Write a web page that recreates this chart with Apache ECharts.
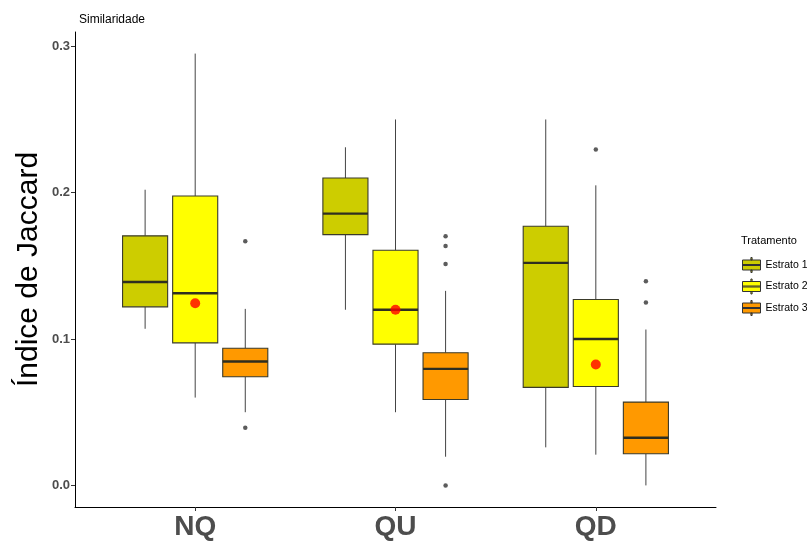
<!DOCTYPE html>
<html>
<head>
<meta charset="utf-8">
<script src="https://cdn.jsdelivr.net/npm/echarts@6/dist/echarts.min.js"></script>
<style>html,body{margin:0;padding:0;background:#fff}#c{width:807px;height:542px}</style>
</head>
<body>
<div id="c"></div>
<script>
const categories = ['NQ', 'QU', 'QD'];
const groups = ['Estrato 1', 'Estrato 2', 'Estrato 3'];
const yTicks = [0, 0.1, 0.2, 0.3];
// [whiskerLow, Q1, median, Q3, whiskerHigh] per category
const estrato1 = [[0.107, 0.122, 0.139, 0.1705, 0.202], [0.120, 0.1713, 0.1857, 0.210, 0.231], [0.026, 0.067, 0.152, 0.177, 0.250]];
const estrato2 = [[0.060, 0.0974, 0.1313, 0.1977, 0.295], [0.050, 0.0965, 0.120, 0.1606, 0.250], [0.021, 0.0676, 0.100, 0.127, 0.205]];
const estrato3 = [[0.050, 0.0742, 0.0846, 0.0937, 0.1206], [0.0196, 0.0587, 0.0796, 0.0906, 0.1329], [0.0, 0.0216, 0.0326, 0.0569, 0.1065]];
// outliers per category
const out1 = [[], [], []];
const out2 = [[], [], [0.2294]];
const out3 = [[0.1668, 0.0394], [0.1702, 0.1636, 0.1513, 0.0], [0.1395, 0.1249]];
// mean of Estrato 2 per category
const means2 = [0.1245, 0.120, 0.0826];

const colors = ['#CDCD00', '#FFFF00', '#FF9900'];
const stats = [estrato1, estrato2, estrato3];
const outs = [out1, out2, out3];
const dodge = [-0.25, 0, 0.25];
const halfW = 0.1125;

function renderBox(params, api) {
  const x = api.value(0);
  const lo = api.coord([x, api.value(1)]);
  const q1 = api.coord([x, api.value(2)]);
  const md = api.coord([x, api.value(3)]);
  const q3 = api.coord([x, api.value(4)]);
  const hi = api.coord([x, api.value(5)]);
  const w = api.size([halfW, 0])[0];
  const fill = api.visual('color');
  const cx = lo[0];
  return {
    type: 'group',
    children: [
      {type: 'line', shape: {x1: cx, y1: hi[1], x2: cx, y2: q3[1]}, style: {stroke: '#444', lineWidth: 1}},
      {type: 'line', shape: {x1: cx, y1: q1[1], x2: cx, y2: lo[1]}, style: {stroke: '#444', lineWidth: 1}},
      {type: 'rect', shape: {x: cx - w, y: q3[1], width: 2 * w, height: q1[1] - q3[1]}, style: {fill: fill, stroke: '#3a3a2a', lineWidth: 1.1}},
      {type: 'line', shape: {x1: cx - w, y1: md[1], x2: cx + w, y2: md[1]}, style: {stroke: '#2e2e20', lineWidth: 2.4}}
    ]
  };
}

const series = [];
groups.forEach((g, gi) => {
  const data = stats[gi].map((s, ci) => [ci + 1 + dodge[gi]].concat(s));
  series.push({
    name: g,
    type: 'custom',
    renderItem: renderBox,
    encode: {x: 0, y: [1, 2, 3, 4, 5]},
    itemStyle: {color: colors[gi], borderColor: '#333', borderWidth: 1},
    data: data,
    z: 2
  });
  const od = [];
  outs[gi].forEach((arr, ci) => arr.forEach(v => od.push([ci + 1 + dodge[gi], v])));
  if (od.length) {
    series.push({
      type: 'scatter', symbolSize: 4.5, itemStyle: {color: '#333'}, data: od, z: 3, silent: true
    });
  }
});
series.push({
  type: 'scatter', symbolSize: 10, itemStyle: {color: '#FF0000'},
  data: means2.map((v, ci) => [ci + 1 + dodge[1], v]), z: 4, silent: true
});

const chart = echarts.init(document.getElementById('c'), null, {renderer: 'canvas'});
chart.setOption({
  animation: false,
  backgroundColor: '#fff',
  textStyle: {fontFamily: 'Liberation Sans, Arial, sans-serif'},
  title: [
    {text: 'Similaridade', left: 74, top: 9, textStyle: {fontSize: 12, fontWeight: 'normal', color: '#000', fontFamily: 'Liberation Sans'}},
    {text: 'Tratamento', left: 736, top: 230, textStyle: {fontSize: 11, fontWeight: 'normal', color: '#000', fontFamily: 'Liberation Sans'}}
  ],
  legend: {
    data: groups,
    orient: 'vertical',
    left: 737,
    top: 252,
    itemWidth: 18,
    itemHeight: 15,
    itemGap: 5.5,
    symbolKeepAspect: false,
    icon: 'path://M8.4,0h1.2v2.5h-1.2z M0,2.5h18v10h-18z M0,7h18v1h-18z M8.4,12.5h1.2v2.5h-1.2z',
    itemStyle: {borderColor: '#333', borderWidth: 1},
    textStyle: {fontSize: 10.5, color: '#000', fontFamily: 'Liberation Sans'}
  },
  grid: {left: 75, right: 91, top: 32, bottom: 35},
  xAxis: {
    type: 'value', min: 0.4, max: 3.6,
    splitLine: {show: false},
    axisLine: {show: true, onZero: false, lineStyle: {color: '#000', width: 1}},
    axisTick: {show: true, customValues: [1, 2, 3], length: 4, lineStyle: {color: '#333'}},
    axisLabel: {customValues: [1, 2, 3], formatter: v => categories[Math.round(v) - 1], fontSize: 28, fontWeight: 'bold', color: '#4d4d4d', margin: 6, fontFamily: 'Liberation Sans'}
  },
  yAxis: {
    type: 'value', min: -0.01475, max: 0.30975,
    name: 'Índice de Jaccard', nameLocation: 'middle', nameGap: 31, nameRotate: 90,
    nameMoveOverlap: false,
    nameTextStyle: {fontSize: 30, color: '#000', fontFamily: 'Liberation Sans'},
    splitLine: {show: false},
    axisLine: {show: true, onZero: false, lineStyle: {color: '#000', width: 1}},
    axisTick: {show: true, customValues: yTicks, length: 4, lineStyle: {color: '#333'}},
    axisLabel: {customValues: yTicks, formatter: v => v.toFixed(1), fontSize: 13, fontWeight: 'bold', color: '#4d4d4d', margin: 5, fontFamily: 'Liberation Sans'}
  },
  series: series
});
</script>
</body>
</html>
